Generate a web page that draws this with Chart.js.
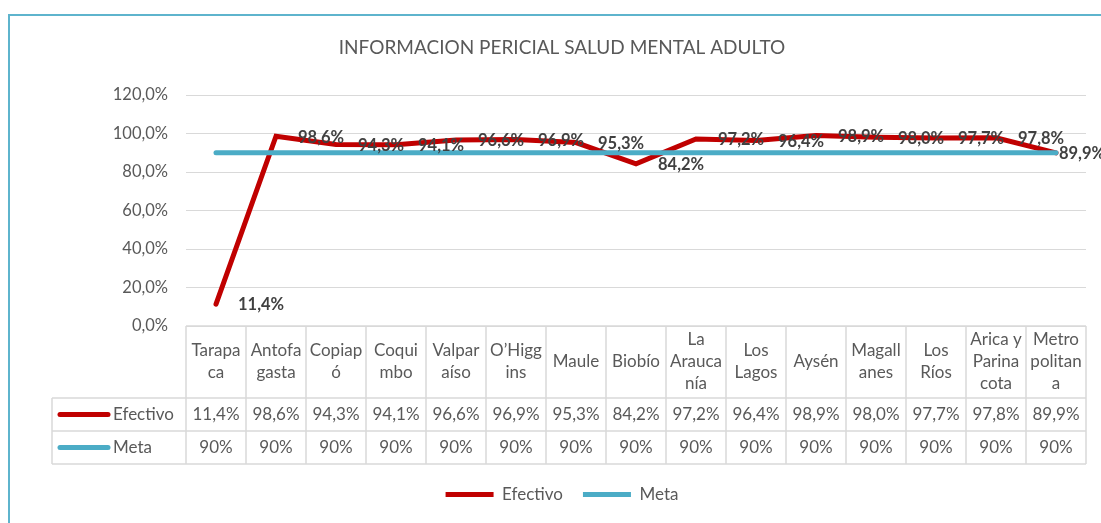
<!DOCTYPE html>
<html>
<head>
<meta charset="utf-8">
<script src="https://cdn.jsdelivr.net/npm/chart.js@4/dist/chart.umd.min.js"></script>
<style>
  html, body { margin: 0; padding: 0; background: #fff; overflow: hidden; }
</style>
</head>
<body>
<canvas id="chart" width="1101" height="523"></canvas>
<script>
'use strict'

// data
const categories = ['Tarapaca', 'Antofagasta', 'Copiapó', 'Coquimbo', 'Valparaíso', 'O’Higgins', 'Maule',
  'Biobío', 'La Araucanía', 'Los Lagos', 'Aysén', 'Magallanes', 'Los Ríos', 'Arica y Parinacota', 'Metropolitana']
// how the category names wrap inside the data table
const tickLines = [['Tarapa', 'ca'], ['Antofa', 'gasta'], ['Copiap', 'ó'], ['Coqui', 'mbo'], ['Valpar', 'aíso'],
  ['O’Higg', 'ins'], ['Maule'], ['Biobío'], ['La', 'Arauca', 'nía'], ['Los', 'Lagos'], ['Aysén'],
  ['Magall', 'anes'], ['Los', 'Ríos'], ['Arica y', 'Parina', 'cota'], ['Metro', 'politan', 'a']]
const efectivo = [11.4, 98.6, 94.3, 94.1, 96.6, 96.9, 95.3, 84.2, 97.2, 96.4, 98.9, 98.0, 97.7, 97.8, 89.9]
const meta = [90, 90, 90, 90, 90, 90, 90, 90, 90, 90, 90, 90, 90, 90, 90]
const yTicks = [0, 20, 40, 60, 80, 100, 120]

const RED = '#c00000'
const BLUE = '#4bacc6'
const GRAY = '#595959'
const GRID = '#d9d9d9'

const pct1 = v => v.toFixed(1).replace('.', ',') + '%'
const pct0 = v => v.toFixed(0) + '%'

Chart.defaults.font.family = 'Lato'

// white background + the excel chart frame
const frame = {
  id: 'frame',
  beforeDraw (chart) {
    const ctx = chart.ctx
    ctx.save()
    ctx.fillStyle = '#fff'
    ctx.fillRect(0, 0, chart.width, chart.height)
    ctx.strokeStyle = '#5eb4cd'
    ctx.lineWidth = 2
    ctx.strokeRect(9, 15, 1300, 700)
    ctx.restore()
  }
}

// bold value labels to the right of the Efectivo points
const pointLabels = {
  id: 'pointLabels',
  afterDatasetsDraw (chart) {
    const ctx = chart.ctx
    const points = chart.getDatasetMeta(0).data
    ctx.save()
    ctx.font = 'bold 16.5px Lato'
    ctx.fillStyle = '#404040'
    ctx.textAlign = 'left'
    ctx.textBaseline = 'middle'
    points.forEach((pt, i) => {
      const text = pct1(efectivo[i])
      const w = ctx.measureText(text).width
      const lx = Math.min(pt.x + 22, chart.width - w + 4)
      ctx.fillText(text, lx, pt.y + 1)
    })
    ctx.restore()
  }
}

// data table under the plot
const dataTable = {
  id: 'dataTable',
  afterDraw (chart) {
    const ctx = chart.ctx
    const x = chart.scales.x
    const area = chart.chartArea
    const n = categories.length
    const colW = (area.right - area.left) / n
    const top = area.bottom
    const headH = 72
    const rowH = 33
    const rowTop = top + headH
    const bottom = rowTop + rowH * 2
    const left = 52

    const line = (x1, y1, x2, y2) => {
      ctx.beginPath()
      ctx.moveTo(x1, y1)
      ctx.lineTo(x2, y2)
      ctx.stroke()
    }

    ctx.save()
    ctx.strokeStyle = GRID
    ctx.lineWidth = 1.5
    line(area.left, top, area.right, top)
    for (let r = 0; r <= 2; r++) line(left, rowTop + r * rowH, area.right, rowTop + r * rowH)
    line(left, rowTop, left, bottom)
    for (let i = 0; i < n; i++) {
      const cx = x.getPixelForValue(i)
      line(cx - colW / 2, top, cx - colW / 2, bottom)
      if (i === n - 1) line(cx + colW / 2, top, cx + colW / 2, bottom)
    }

    ctx.font = '17px Lato'
    ctx.fillStyle = GRAY
    ctx.textAlign = 'center'
    ctx.textBaseline = 'middle'
    const lh = 22
    tickLines.forEach((lines, i) => {
      const cx = x.getPixelForValue(i)
      const y0 = top + headH / 2 - (lines.length - 1) * lh / 2
      lines.forEach((t, k) => ctx.fillText(t, cx, y0 + k * lh))
    })

    chart.data.datasets.forEach((ds, r) => {
      const cy = rowTop + rowH * r + rowH / 2
      ds.data.forEach((v, i) => {
        ctx.fillText(r === 0 ? pct1(v) : pct0(v), x.getPixelForValue(i), cy)
      })
      ctx.strokeStyle = ds.borderColor
      ctx.lineWidth = 5
      ctx.lineCap = 'round'
      line(60, cy, 108, cy)
      ctx.textAlign = 'left'
      ctx.fillText(ds.label, 113, cy)
      ctx.textAlign = 'center'
    })
    ctx.restore()
  }
}

const chart = new Chart(document.getElementById('chart').getContext('2d'), {
  type: 'line',
  data: {
    labels: categories,
    datasets: [{
      label: 'Efectivo',
      data: efectivo,
      borderColor: RED,
      backgroundColor: RED,
      borderWidth: 5,
      borderCapStyle: 'round',
      borderJoinStyle: 'miter',
      pointRadius: 0,
      tension: 0,
      order: 1
    }, {
      label: 'Meta',
      data: meta,
      borderColor: BLUE,
      backgroundColor: BLUE,
      borderWidth: 5,
      borderCapStyle: 'round',
      pointRadius: 0,
      tension: 0,
      order: 0
    }]
  },
  options: {
    responsive: false,
    animation: false,
    layout: { padding: { left: 38, right: 15, top: 0, bottom: 10 } },
    plugins: {
      title: {
        display: true,
        text: 'INFORMACION PERICIAL SALUD MENTAL ADULTO',
        color: GRAY,
        font: { size: 19, weight: 'normal' },
        padding: { top: 36.6, bottom: 35.6 }
      },
      legend: {
        position: 'bottom',
        labels: {
          usePointStyle: true,
          pointStyle: 'line',
          pointStyleWidth: 48,
          color: GRAY,
          font: { size: 17 },
          padding: 20,
          sort: (a, b) => a.datasetIndex - b.datasetIndex
        }
      },
      tooltip: { enabled: false }
    },
    scales: {
      x: {
        offset: true,
        grid: { display: false },
        border: { display: false },
        ticks: { display: false },
        afterFit: s => { s.height = 140 }
      },
      y: {
        min: 0,
        max: 120,
        afterBuildTicks: s => { s.ticks = yTicks.map(v => ({ value: v })) },
        grid: { color: GRID, lineWidth: 1, drawTicks: false },
        border: { display: false },
        ticks: {
          padding: 18,
          color: GRAY,
          font: { size: 16.5 },
          callback: v => pct1(v)
        },
        afterFit: s => { s.width = 148 }
      }
    }
  },
  plugins: [frame, pointLabels, dataTable]
})
</script>
</body>
</html>
